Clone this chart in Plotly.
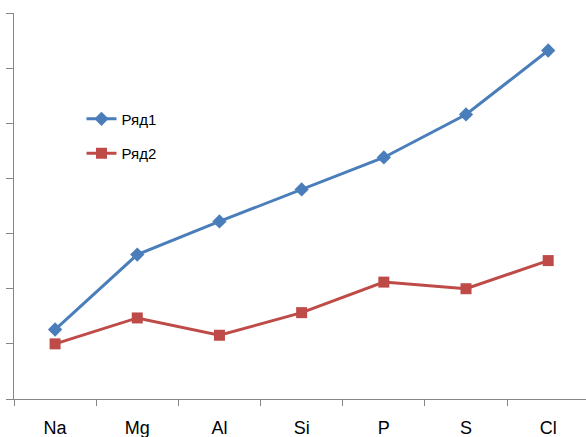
import plotly.graph_objects as go

# Elements of period 3
categories = ["Na", "Mg", "Al", "Si", "P", "S", "Cl"]
series1 = [0.63, 1.31, 1.61, 1.90, 2.19, 2.58, 3.16]
series2 = [0.50, 0.735, 0.578, 0.783, 1.06, 1.00, 1.255]
names = ["Ряд1", "Ряд2"]

blue = "#4A7EBB"
red = "#BE4B48"
axis_color = "#868686"

fig = go.Figure()
fig.add_trace(go.Scatter(
    x=categories, y=series1, name=names[0], mode="lines+markers",
    legendgroup="a",
    line=dict(color=blue, width=3),
    marker=dict(symbol="diamond", size=11, color=blue),
))
fig.add_trace(go.Scatter(
    x=categories, y=series2, name=names[1], mode="lines+markers",
    legendgroup="b",
    line=dict(color=red, width=3),
    marker=dict(symbol="square", size=11, color=red),
))

fig.update_layout(
    width=586, height=437,
    margin=dict(l=14, r=0, t=13, b=38),
    plot_bgcolor="white", paper_bgcolor="white",
    font=dict(family="Liberation Sans, Arial, sans-serif", color="black"),
    showlegend=True,
    legend=dict(
        x=0.118, y=0.768, xanchor="left", yanchor="top",
        font=dict(size=15, color="black"),
        tracegroupgap=12,
        bgcolor="rgba(0,0,0,0)",
    ),
    xaxis=dict(
        type="category",
        range=[-0.5, 6.46],
        showline=True, linecolor=axis_color, linewidth=1,
        ticks="outside", tickson="boundaries", ticklen=6,
        tickcolor=axis_color, tickwidth=1,
        showgrid=False, zeroline=False,
        tickfont=dict(size=18, color="black"),
        ticklabelstandoff=12,
    ),
    yaxis=dict(
        range=[0, 3.5], dtick=0.5,
        showline=True, linecolor=axis_color, linewidth=1,
        ticks="outside", ticklen=7, tickcolor=axis_color, tickwidth=1,
        showticklabels=False, showgrid=False, zeroline=False,
    ),
)

fig.write_html("out.html")
